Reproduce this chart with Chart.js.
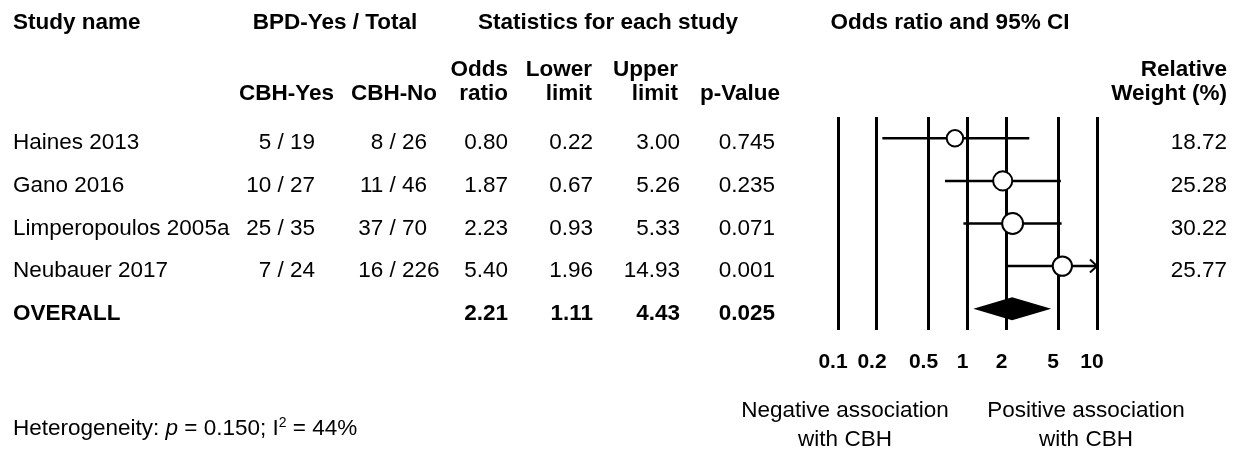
<!DOCTYPE html>
<html>
<head>
<meta charset="utf-8">
<script src="https://cdn.jsdelivr.net/npm/chart.js@4.4.1/dist/chart.umd.min.js"></script>
<style>
  html, body { margin: 0; padding: 0; background: #fff; }
  #wrap { width: 1254px; height: 451px; }
</style>
</head>
<body>
<div id="wrap"><canvas id="forest" width="1254" height="451"></canvas></div>
<script>
// Study-level data
const studies = ['Haines 2013', 'Gano 2016', 'Limperopoulos 2005a', 'Neubauer 2017'];
const cbhYesEvents = [5, 10, 25, 7];
const cbhYesTotals = [19, 27, 35, 24];
const cbhNoEvents = [8, 11, 37, 16];
const cbhNoTotals = [26, 46, 70, 226];
const oddsRatio = [0.80, 1.87, 2.23, 5.40];
const lowerLimit = [0.22, 0.67, 0.93, 1.96];
const upperLimit = [3.00, 5.26, 5.33, 14.93];
const pValue = [0.745, 0.235, 0.071, 0.001];
const relWeight = [18.72, 25.28, 30.22, 25.77];

// Pooled estimate: odds ratio, lower, upper, p
const overallStats = [2.21, 1.11, 4.43, 0.025];

// Axis ticks
const tickValues = [0.1, 0.2, 0.5, 1, 2, 5, 10];
const tickLabels = ['0.1', '0.2', '0.5', '1', '2', '5', '10'];

const FONT = '"Liberation Sans", Arial, Helvetica, sans-serif';
const SIZE = 22.5;
const overallRow = studies.length;

function setFont(ctx, bold, size, italic) {
  ctx.font = (italic ? 'italic ' : '') + (bold ? 'bold ' : '') + (size || SIZE) + 'px ' + FONT;
}
function txt(ctx, s, x, y, align, bold, size) {
  setFont(ctx, bold, size);
  ctx.textAlign = align || 'left';
  ctx.fillText(s, x, y);
}

// Confidence-interval whiskers and the pooled diamond, drawn under the study markers
const whiskers = {
  id: 'whiskers',
  beforeDatasetsDraw(chart) {
    const { ctx, scales: { x, y } } = chart;
    ctx.save();
    ctx.strokeStyle = '#000';
    ctx.fillStyle = '#000';
    ctx.lineWidth = 2.5;
    studies.forEach((_, i) => {
      const yy = y.getPixelForValue(i);
      const x1 = x.getPixelForValue(lowerLimit[i]);
      const x2 = x.getPixelForValue(Math.min(upperLimit[i], x.max));
      ctx.beginPath();
      ctx.moveTo(x1, yy);
      ctx.lineTo(x2, yy);
      ctx.stroke();
      if (upperLimit[i] > x.max) {
        ctx.lineWidth = 2;
        ctx.beginPath();
        ctx.moveTo(x2 - 7, yy - 6.5);
        ctx.lineTo(x2, yy);
        ctx.lineTo(x2 - 7, yy + 6.5);
        ctx.stroke();
        ctx.lineWidth = 2.5;
      }
    });
    const yd = y.getPixelForValue(overallRow);
    const h = 11.5;
    ctx.beginPath();
    ctx.moveTo(x.getPixelForValue(overallStats[1]), yd);
    ctx.lineTo(x.getPixelForValue(overallStats[0]), yd - h);
    ctx.lineTo(x.getPixelForValue(overallStats[2]), yd);
    ctx.lineTo(x.getPixelForValue(overallStats[0]), yd + h);
    ctx.closePath();
    ctx.fill();
    ctx.restore();
  }
};

// Study table, headers and footnotes
const table = {
  id: 'table',
  afterDraw(chart) {
    const { ctx, scales: { y } } = chart;
    ctx.save();
    ctx.fillStyle = '#000';
    ctx.textBaseline = 'alphabetic';

    // Header rows
    txt(ctx, 'Study name', 13, 28.5, 'left', true);
    txt(ctx, 'BPD-Yes / Total', 335, 28.5, 'center', true);
    txt(ctx, 'Statistics for each study', 608, 28.5, 'center', true);
    txt(ctx, 'Odds ratio and 95% CI', 950, 28.5, 'center', true);

    txt(ctx, 'Odds', 508, 76, 'right', true);
    txt(ctx, 'Lower', 592, 76, 'right', true);
    txt(ctx, 'Upper', 678, 76, 'right', true);
    txt(ctx, 'Relative', 1227, 76, 'right', true);

    txt(ctx, 'CBH-Yes', 286.5, 100, 'center', true);
    txt(ctx, 'CBH-No', 394, 100, 'center', true);
    txt(ctx, 'ratio', 508, 100, 'right', true);
    txt(ctx, 'limit', 592, 100, 'right', true);
    txt(ctx, 'limit', 678, 100, 'right', true);
    txt(ctx, 'p-Value', 780, 100, 'right', true);
    txt(ctx, 'Weight (%)', 1227, 100, 'right', true);

    // Study rows
    studies.forEach((name, i) => {
      const by = y.getPixelForValue(i) + 11;
      txt(ctx, name, 13, by, 'left');
      txt(ctx, cbhYesEvents[i] + ' / ', 290, by, 'right');
      txt(ctx, String(cbhYesTotals[i]), 290, by, 'left');
      txt(ctx, cbhNoEvents[i] + ' / ', 402, by, 'right');
      txt(ctx, String(cbhNoTotals[i]), 402, by, 'left');
      txt(ctx, oddsRatio[i].toFixed(2), 508, by, 'right');
      txt(ctx, lowerLimit[i].toFixed(2), 593, by, 'right');
      txt(ctx, upperLimit[i].toFixed(2), 680, by, 'right');
      txt(ctx, pValue[i].toFixed(3), 775, by, 'right');
      txt(ctx, relWeight[i].toFixed(2), 1227, by, 'right');
    });

    // Pooled row
    const oy = y.getPixelForValue(overallRow) + 11;
    txt(ctx, 'OVERALL', 13, oy, 'left', true);
    txt(ctx, overallStats[0].toFixed(2), 508, oy, 'right', true);
    txt(ctx, overallStats[1].toFixed(2), 593, oy, 'right', true);
    txt(ctx, overallStats[2].toFixed(2), 680, oy, 'right', true);
    txt(ctx, overallStats[3].toFixed(3), 775, oy, 'right', true);

    // Direction captions
    txt(ctx, 'Negative association', 845, 417, 'center');
    txt(ctx, 'with CBH', 845, 446, 'center');
    txt(ctx, 'Positive association', 1086, 417, 'center');
    txt(ctx, 'with CBH', 1086, 446, 'center');

    // Heterogeneity line with italic p and superscript 2
    let hx = 13;
    const hy = 435;
    ctx.textAlign = 'left';
    const parts = [
      ['Heterogeneity: ', false, SIZE, 0],
      ['p', true, SIZE, 0],
      [' = 0.150; I', false, SIZE, 0],
      ['2', false, 14, -8],
      [' = 44%', false, SIZE, 0]
    ];
    parts.forEach(([s, it, sz, dy]) => {
      setFont(ctx, false, sz, it);
      ctx.fillText(s, hx, hy + dy);
      hx += ctx.measureText(s).width;
    });
    ctx.restore();
  }
};

const ctx = document.getElementById('forest').getContext('2d');
new Chart(ctx, {
  type: 'scatter',
  data: {
    datasets: [{
      data: oddsRatio.map((v, i) => ({ x: v, y: i })),
      pointRadius: relWeight.map(w => 1.9 * Math.sqrt(w)),
      pointHoverRadius: relWeight.map(w => 1.9 * Math.sqrt(w)),
      pointBackgroundColor: '#fff',
      pointBorderColor: '#000',
      pointBorderWidth: 2,
      pointHoverBorderWidth: 2
    }]
  },
  options: {
    responsive: false,
    animation: false,
    events: [],
    layout: { padding: { left: 838, right: 157, top: 117, bottom: 76 } },
    plugins: { legend: { display: false }, tooltip: { enabled: false } },
    scales: {
      x: {
        type: 'logarithmic',
        min: 0.1,
        max: 10,
        afterBuildTicks(scale) { scale.ticks = tickValues.map(v => ({ value: v })); },
        afterFit(scale) { scale.height = 45; },
        grid: { color: '#000', lineWidth: 3, drawTicks: false },
        border: { display: false },
        ticks: {
          padding: 20,
          labelOffset: -5,
          autoSkip: false,
          maxRotation: 0,
          color: '#000',
          font: { family: FONT, size: 21, weight: 'bold' },
          callback: (v, i) => tickLabels[i]
        }
      },
      y: { type: 'linear', min: -0.5, max: 4.5, reverse: true, display: false }
    }
  },
  plugins: [whiskers, table]
});
</script>
</body>
</html>
